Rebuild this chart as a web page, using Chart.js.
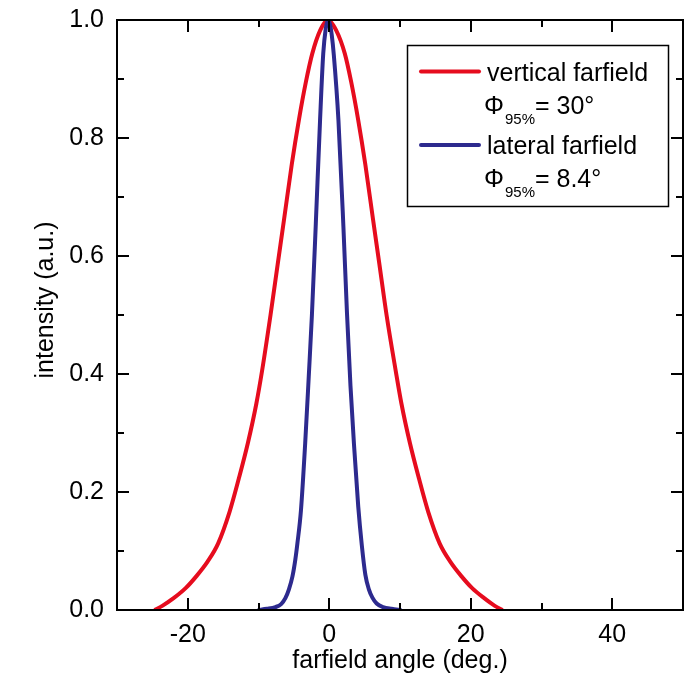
<!DOCTYPE html>
<html>
<head>
<meta charset="utf-8">
<script src="https://cdn.jsdelivr.net/npm/chart.js@4.4.1/dist/chart.umd.min.js"></script>
<style>
  html, body { margin: 0; padding: 0; background: #ffffff; }
  canvas { display: block; }
</style>
</head>
<body>
<canvas id="farfield" width="693" height="685"></canvas>
<script>
// Vertical farfield profile (angle in degrees, normalised intensity)
const verticalAngle = [-24.7, -23.6, -22.0, -20.3, -18.8, -17.2, -15.7, -14.1, -12.8, -11.5, -10.3, -9.5, -8.3, -7.3, -6.4, -5.3, -4.3, -3.3, -2.4, -1.3, -0.2,
  1.0, 2.2, 3.1, 4.1, 5.1, 6.2, 7.1, 8.1, 9.4, 10.2, 11.4, 12.7, 14.0, 15.6, 17.1, 18.7, 20.2, 21.9, 23.4, 24.5];
const verticalIntensity = [0.0, 0.007, 0.020, 0.037, 0.057, 0.082, 0.113, 0.166, 0.222, 0.283, 0.350, 0.405, 0.500, 0.585, 0.661, 0.755, 0.830, 0.895, 0.943, 0.982, 1.0,
  0.982, 0.943, 0.895, 0.830, 0.755, 0.661, 0.585, 0.500, 0.405, 0.350, 0.283, 0.222, 0.166, 0.113, 0.082, 0.057, 0.037, 0.020, 0.007, 0.0];

// Lateral farfield profile
const lateralAngle = [-10.1, -8.8, -7.6, -6.8, -6.2, -5.7, -5.2, -4.8, -4.5, -4.0, -3.4, -2.9, -2.45, -1.9, -1.3, -0.85, -0.5, -0.2,
  0.1, 0.35, 0.65, 1.3, 2.0, 2.5, 3.0, 3.5, 4.1, 4.6, 5.1, 5.6, 6.1, 6.7, 7.6, 8.8, 10.2];
const lateralIntensity = [0.0, 0.002, 0.005, 0.010, 0.020, 0.035, 0.057, 0.085, 0.113, 0.169, 0.283, 0.395, 0.500, 0.655, 0.830, 0.943, 0.985, 1.0,
  0.993, 0.975, 0.940, 0.830, 0.650, 0.505, 0.380, 0.280, 0.175, 0.110, 0.060, 0.035, 0.021, 0.011, 0.005, 0.002, 0.0];

// Axis ticks
const xTickValues = [-20, 0, 20, 40];
const xMinorValues = [-10, 10, 30];
const yTickValues = [0, 0.2, 0.4, 0.6, 0.8, 1.0];
const yMinorValues = [0.1, 0.3, 0.5, 0.7, 0.9];

// Legend entries
const seriesNames = ['vertical farfield', 'lateral farfield'];
const divergenceValues = ['30°', '8.4°'];
const axisTitles = { x: 'farfield angle (deg.)', y: 'intensity (a.u.)' };

const RED = '#e60c1e';
const BLUE = '#2d2a8e';
const FONT = '"Liberation Sans", Arial, Helvetica, sans-serif';

Chart.defaults.font.family = FONT;
Chart.defaults.color = '#000';

const toPoints = (xs, ys) => xs.map((x, i) => ({ x: x, y: ys[i] }));

// Frame, inward ticks on all four sides, axis titles and the boxed legend
const decorations = {
  id: 'decorations',
  afterDraw(chart) {
    const { ctx, chartArea: a, scales } = chart;
    const xs = scales.x, ys = scales.y;
    const major = 12, minor = 7;
    ctx.save();
    ctx.strokeStyle = '#000';
    ctx.lineWidth = 2;
    ctx.lineCap = 'butt';
    ctx.strokeRect(a.left, a.top, a.right - a.left, a.bottom - a.top);

    ctx.beginPath();
    const xTick = (v, len) => {
      const p = Math.round(xs.getPixelForValue(v));
      ctx.moveTo(p, a.bottom); ctx.lineTo(p, a.bottom - len);
      ctx.moveTo(p, a.top); ctx.lineTo(p, a.top + len);
    };
    const yTick = (v, len) => {
      const p = Math.round(ys.getPixelForValue(v));
      ctx.moveTo(a.left, p); ctx.lineTo(a.left + len, p);
      ctx.moveTo(a.right, p); ctx.lineTo(a.right - len, p);
    };
    xTickValues.forEach(v => xTick(v, major));
    xMinorValues.forEach(v => xTick(v, minor));
    yTickValues.forEach(v => yTick(v, major));
    yMinorValues.forEach(v => yTick(v, minor));
    ctx.stroke();

    // axis titles
    ctx.fillStyle = '#000';
    ctx.font = '25px ' + FONT;
    ctx.textAlign = 'center';
    ctx.textBaseline = 'alphabetic';
    ctx.fillText(axisTitles.x, (a.left + a.right) / 2, 668);
    ctx.save();
    ctx.translate(53, 300);
    ctx.rotate(-Math.PI / 2);
    ctx.fillText(axisTitles.y, 0, 0);
    ctx.restore();

    // legend box
    ctx.lineWidth = 1.5;
    ctx.strokeRect(407.5, 45.5, 261, 161);
    const colors = [RED, BLUE];
    const rows = [{ line: 71.5, name: 81, phi: 114 }, { line: 145, name: 153.5, phi: 187 }];
    rows.forEach((r, i) => {
      ctx.strokeStyle = colors[i];
      ctx.lineWidth = 4;
      ctx.lineCap = 'round';
      ctx.beginPath();
      ctx.moveTo(421, r.line); ctx.lineTo(479, r.line);
      ctx.stroke();

      ctx.textAlign = 'left';
      ctx.fillStyle = '#000';
      ctx.font = '25px ' + FONT;
      ctx.fillText(seriesNames[i], 487, r.name);

      let x = 484;
      ctx.fillText('Φ', x, r.phi);
      x += ctx.measureText('Φ').width + 1;
      ctx.font = '15px ' + FONT;
      ctx.fillText('95%', x, r.phi + 10);
      x += ctx.measureText('95%').width;
      ctx.font = '25px ' + FONT;
      ctx.fillText('= ' + divergenceValues[i], x, r.phi);
    });
    ctx.restore();
  }
};

new Chart(document.getElementById('farfield'), {
  type: 'line',
  data: {
    datasets: [
      {
        label: seriesNames[0],
        data: toPoints(verticalAngle, verticalIntensity),
        borderColor: RED,
        borderWidth: 4,
        pointRadius: 0,
        fill: false,
        cubicInterpolationMode: 'monotone',
        order: 2
      },
      {
        label: seriesNames[1],
        data: toPoints(lateralAngle, lateralIntensity),
        borderColor: BLUE,
        borderWidth: 4,
        pointRadius: 0,
        fill: false,
        cubicInterpolationMode: 'monotone',
        order: 1
      }
    ]
  },
  options: {
    responsive: false,
    animation: false,
    devicePixelRatio: 1,
    layout: { padding: { top: 20, right: 10, left: 0, bottom: 0 } },
    plugins: { legend: { display: false }, tooltip: { enabled: false } },
    scales: {
      x: {
        type: 'linear',
        min: -30,
        max: 50,
        afterBuildTicks: s => { s.ticks = xTickValues.map(v => ({ value: v })); },
        afterFit: s => { s.height = 75; s.paddingLeft = 0; s.paddingRight = 0; },
        grid: { display: false, drawTicks: false },
        border: { display: false },
        ticks: { autoSkip: false, maxRotation: 0, padding: 10, color: '#000', font: { size: 25 } }
      },
      y: {
        type: 'linear',
        min: 0,
        max: 1,
        afterBuildTicks: s => { s.ticks = yTickValues.map(v => ({ value: v })); },
        afterFit: s => { s.width = 117; s.paddingTop = 0; s.paddingBottom = 0; },
        grid: { display: false, drawTicks: false },
        border: { display: false },
        ticks: { autoSkip: false, padding: 13, color: '#000', font: { size: 25 }, callback: v => Number(v).toFixed(1) }
      }
    }
  },
  plugins: [decorations]
});
</script>
</body>
</html>
